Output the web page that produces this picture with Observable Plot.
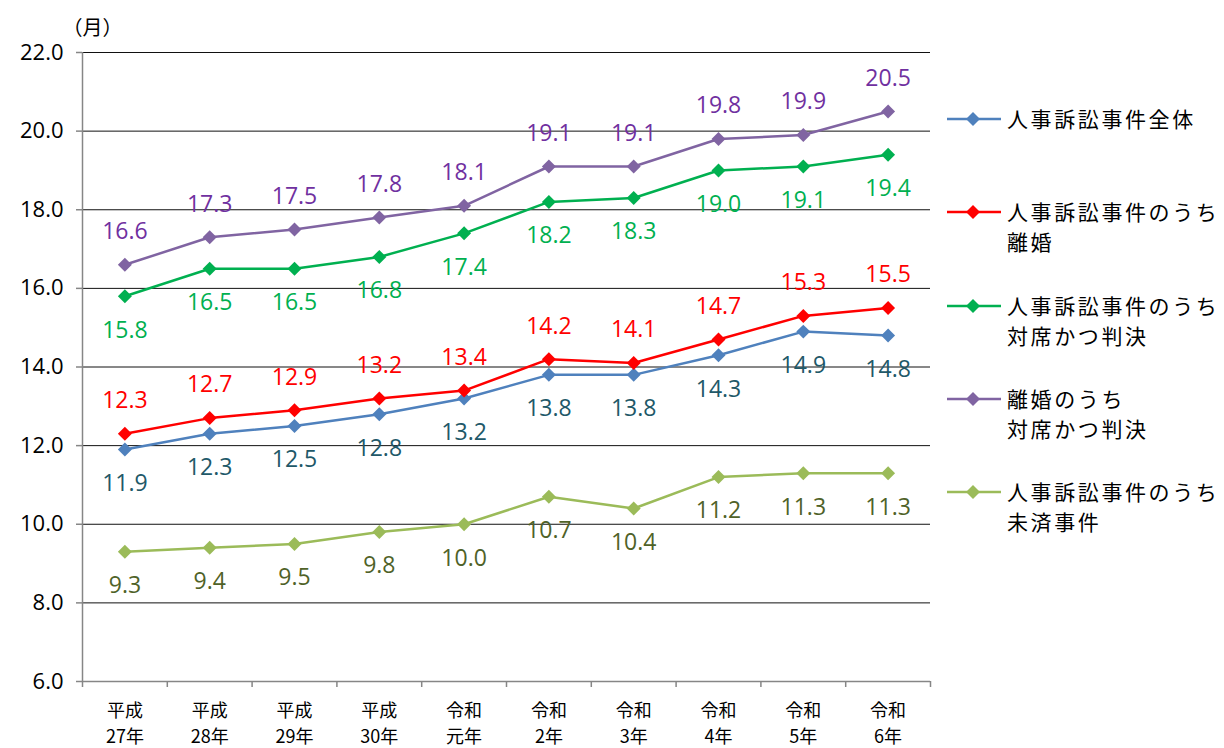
<!DOCTYPE html>
<html><head><meta charset="utf-8">
<script src="https://cdn.jsdelivr.net/npm/d3@7"></script>
<script src="https://cdn.jsdelivr.net/npm/@observablehq/plot@0.6"></script>
<style>
body{margin:0;background:#fff;}
#wrap{position:relative;width:1224px;height:748px;overflow:hidden;}
#wrap svg{position:absolute;left:0;top:0;}
</style></head><body><div id="wrap"></div>
<script>
// ---- data ----
const years = ["平成\n27年","平成\n28年","平成\n29年","平成\n30年","令和\n元年","令和\n2年","令和\n3年","令和\n4年","令和\n5年","令和\n6年"];
const seriesNames = ["人事訴訟事件全体","人事訴訟事件のうち\n離婚","人事訴訟事件のうち\n対席かつ判決","離婚のうち\n対席かつ判決","人事訴訟事件のうち\n未済事件"];
const total     = [11.9,12.3,12.5,12.8,13.2,13.8,13.8,14.3,14.9,14.8];
const divorce   = [12.3,12.7,12.9,13.2,13.4,14.2,14.1,14.7,15.3,15.5];
const contested = [15.8,16.5,16.5,16.8,17.4,18.2,18.3,19.0,19.1,19.4];
const divContested = [16.6,17.3,17.5,17.8,18.1,19.1,19.1,19.8,19.9,20.5];
const pending   = [9.3,9.4,9.5,9.8,10.0,10.7,10.4,11.2,11.3,11.3];
const yTicks = [6,8,10,12,14,16,18,20,22];
const unitLabel = "（月）";

const lineColors  = ["#4F81BD","#FF0000","#00B050","#8064A2","#9BBB59"];
const labelColors = ["#215868","#FF0000","#00B050","#7030A0","#4F6228"];
const labelAbove  = [false,true,false,true,false];
const allValues = [total, divorce, contested, divContested, pending];

const JP = "'Noto Sans CJK JP', sans-serif";
const NUM = "'Open Sans', sans-serif";
const GRAY = "#868686";

const series = allValues.map((vals, s) => vals.map((v, i) => ({i, v, s})));

const marks = [
  Plot.gridY({ticks: yTicks.filter(t => t > 6), stroke: "#111", strokeOpacity: 1, strokeWidth: 1}),
  Plot.ruleY([6], {stroke: GRAY, strokeWidth: 1.5}),
  Plot.ruleX([-0.5], {stroke: GRAY, strokeWidth: 1.5}),
  Plot.axisY({ticks: yTicks, tickSize: 6, tickFormat: () => "", stroke: GRAY, strokeWidth: 1.5, label: null}),
  Plot.axisY({ticks: yTicks, tickSize: 0, tickPadding: 19, tickFormat: d => d.toFixed(1), fontSize: 22, fontFamily: NUM, fill: "#000", label: null}),
  Plot.axisX({ticks: d3.range(-0.5, 10, 1), tickSize: 6, tickFormat: () => "", stroke: GRAY, strokeWidth: 1.5, label: null}),
  Plot.text(years, {x: (d, i) => i, text: d => d, frameAnchor: "bottom", dy: 17, lineAnchor: "top", lineHeight: 1.45, fontSize: 18, fontFamily: JP, fill: "#000", style: "letter-spacing:2px"}),
  Plot.text([unitLabel], {text: d => d, frameAnchor: "top-left", dx: -20, dy: -32, textAnchor: "start", fontSize: 20, fontFamily: JP, fill: "#000"})
];

series.forEach((data, s) => {
  marks.push(Plot.line(data, {x: "i", y: "v", stroke: lineColors[s], strokeWidth: 2.5}));
  marks.push(Plot.dot(data, {x: "i", y: "v", symbol: "diamond2", r: 6.3, fill: lineColors[s], stroke: "none"}));
});
series.forEach((data, s) => {
  marks.push(Plot.text(data, {x: "i", y: "v", text: d => d.v.toFixed(1), dy: labelAbove[s] ? -33 : 34, fontSize: 23, fontFamily: NUM, fill: labelColors[s]}));
});

const chart = Plot.plot({
  width: 1224, height: 748,
  marginLeft: 82, marginRight: 294, marginTop: 52, marginBottom: 67,
  x: {type: "linear", domain: [-0.5, 9.5]},
  y: {domain: [6, 22]},
  style: {background: "transparent", overflow: "visible"},
  marks
});
document.getElementById("wrap").appendChild(chart);

// ---- legend (right side) ----
const legendTops = [119, 212, 306, 399, 492];
const lg = d3.select("#wrap").append("svg").attr("width", 1224).attr("height", 748);
seriesNames.forEach((name, s) => {
  const g = lg.append("g").attr("transform", `translate(947,${legendTops[s]})`);
  g.append("line").attr("x1", 0).attr("x2", 54).attr("y1", 0).attr("y2", 0).attr("stroke", lineColors[s]).attr("stroke-width", 2.5);
  g.append("path").attr("d", "M26,-7L33,0L26,7L19,0Z").attr("fill", lineColors[s]);
  name.split("\n").forEach((t, k) => {
    g.append("text").attr("x", 60).attr("y", k * 30).attr("dy", "0.36em")
      .attr("font-family", JP).attr("font-size", 21).attr("letter-spacing", "2.6px").attr("fill", "#000").text(t);
  });
});
</script></body></html>
